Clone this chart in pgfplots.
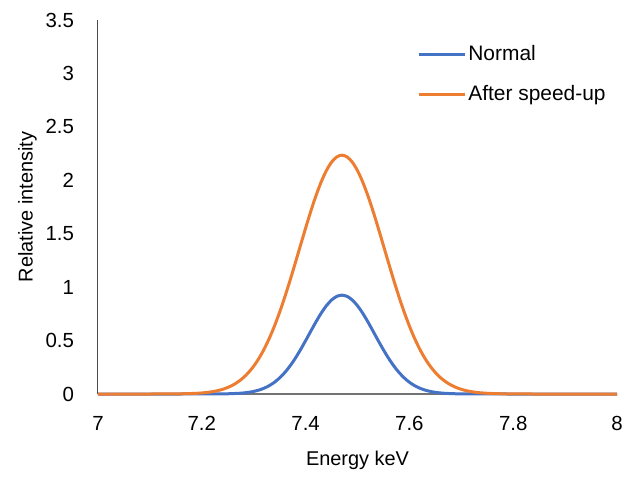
\documentclass[border=0pt]{standalone}
\usepackage{fontspec}
\setmainfont{Liberation Sans}
\usepackage{pgfplots}
\pgfplotsset{compat=1.18}
\definecolor{cblue}{HTML}{4472C4}
\definecolor{corange}{HTML}{ED7D31}
\begin{document}
\fontsize{20.5}{24}\selectfont
\begin{tikzpicture}
\begin{axis}[
  scale only axis, width=519bp, height=374bp,
  xmin=7, xmax=8, ymin=0, ymax=3.5,
  xtick={7,7.2,...,8.01}, ytick={0,0.5,...,3.51},
  xticklabels={7,7.2,7.4,7.6,7.8,8},
  yticklabels={0,0.5,1,1.5,2,2.5,3,3.5},
  axis x line*=bottom, axis y line*=left,
  x axis line style={draw=black!55, line width=1.2bp, -},
  y axis line style={draw=black!70, line width=1bp, -},
  major tick length=0pt,
  xticklabel style={yshift=-15bp},
  yticklabel style={xshift=-17bp},
  tick label style={font=\fontsize{20.5}{24}\selectfont},
  /pgf/number format/assume math mode=true,
  xlabel={Energy keV}, ylabel={Relative intensity},
  xlabel style={font=\fontsize{20}{24}\selectfont, yshift=-7bp},
  ylabel style={font=\fontsize{20}{24}\selectfont, yshift=-5bp},
  legend style={draw=none, fill=none, at={(0.615,0.937)}, anchor=north west,
    font=\fontsize{21}{24}\selectfont, row sep=17bp, inner sep=0pt},
  legend cell align=left,
  legend image code/.code={\draw[#1] (0bp,0bp) -- (46bp,0bp);},
  clip=false,
]
\addplot[cblue, line width=3bp, smooth] coordinates {
(7.00,0) (7.15,0) (7.22,0.0004) (7.25,0.0021) (7.27,0.0060) (7.28,0.0098) (7.29,0.0156) (7.30,0.0243)
(7.31,0.0368) (7.32,0.0543) (7.33,0.0783) (7.34,0.1100) (7.35,0.1508) (7.36,0.2014)
(7.37,0.2624) (7.38,0.3334) (7.39,0.4130) (7.40,0.4990) (7.41,0.5878) (7.42,0.6751)
(7.43,0.7562) (7.44,0.8258) (7.45,0.8795) (7.46,0.9134) (7.47,0.9250) (7.48,0.9134)
(7.49,0.8795) (7.50,0.8258) (7.51,0.7562) (7.52,0.6751) (7.53,0.5878) (7.54,0.4990)
(7.55,0.4130) (7.56,0.3334) (7.57,0.2624) (7.58,0.2014) (7.59,0.1508) (7.60,0.1100)
(7.61,0.0783) (7.62,0.0543) (7.63,0.0368) (7.64,0.0243) (7.65,0.0156) (7.66,0.0098)
(7.67,0.0060) (7.69,0.0021) (7.72,0.0004) (7.80,0) (8.00,0)
};
\addlegendentry{Normal}
\addplot[corange, line width=3bp, smooth] coordinates {
(7.00,0) (7.10,0) (7.14,0.0007) (7.17,0.0028) (7.19,0.0066) (7.20,0.0099) (7.21,0.0146)
(7.22,0.0214) (7.23,0.0308) (7.24,0.0437) (7.25,0.0611) (7.26,0.0842) (7.27,0.1142)
(7.28,0.1526) (7.29,0.2009) (7.30,0.2606) (7.31,0.3331) (7.32,0.4194) (7.33,0.5204)
(7.34,0.6360) (7.35,0.7661) (7.36,0.9089) (7.37,1.0625) (7.38,1.2238) (7.39,1.3886)
(7.40,1.5524) (7.41,1.7100) (7.42,1.8559) (7.43,1.9843) (7.44,2.0903) (7.45,2.1695)
(7.46,2.2184) (7.47,2.2350) (7.48,2.2184) (7.49,2.1695) (7.50,2.0903) (7.51,1.9843)
(7.52,1.8559) (7.53,1.7100) (7.54,1.5524) (7.55,1.3886) (7.56,1.2238) (7.57,1.0625)
(7.58,0.9089) (7.59,0.7661) (7.60,0.6360) (7.61,0.5204) (7.62,0.4194) (7.63,0.3331)
(7.64,0.2606) (7.65,0.2009) (7.66,0.1526) (7.67,0.1142) (7.68,0.0842) (7.69,0.0611)
(7.70,0.0437) (7.71,0.0308) (7.72,0.0214) (7.73,0.0146) (7.74,0.0099) (7.75,0.0066)
(7.77,0.0028) (7.80,0.0007) (7.84,0) (8.00,0)
};
\addlegendentry{After speed-up}
\end{axis}
\path (current axis.south west) ++(-98bp,-80bp) coordinate (bl);
\path (current axis.north east) ++(18bp,20bp) coordinate (tr);
\path[use as bounding box] (bl) rectangle (tr);
\end{tikzpicture}
\end{document}
